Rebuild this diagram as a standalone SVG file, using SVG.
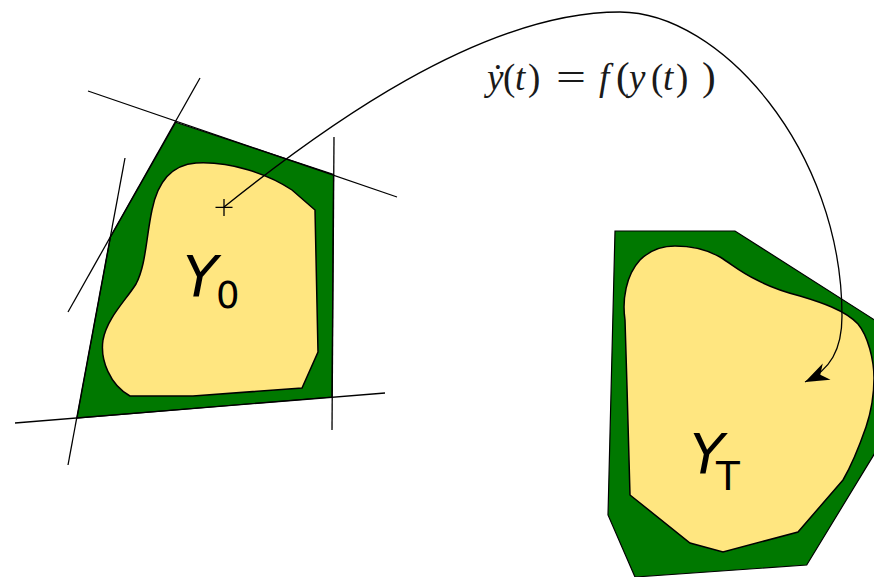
<svg xmlns="http://www.w3.org/2000/svg" width="874" height="577" viewBox="0 0 874 577">
<style>
.hull{fill:#007800;stroke:#000;stroke-width:1.2;stroke-linejoin:miter}
.set{fill:#ffe680;stroke:#000;stroke-width:1.5}
.tan{stroke:#000;stroke-width:1.3;fill:none}
.lbl{font-family:"DejaVu Sans",sans-serif;fill:#000}
.m{font-family:"Liberation Serif","DejaVu Serif",serif;font-size:37px;fill:#1a1a1a}
.i{font-style:italic}
.flow{stroke:#000;stroke-width:1.3;fill:none}
</style>
<defs>
<marker id="ah" markerUnits="userSpaceOnUse" markerWidth="30" markerHeight="24" viewBox="-26 -12 30 24" refX="0" refY="0" orient="auto">
<path d="M0,0 L-24,-9 L-17,0 L-24,9 Z" fill="#000"/>
</marker>
</defs>
<rect width="874" height="577" fill="#fff"/>
<g id="Y0">
<polygon class="hull" points="175.7,122.3 333.5,174.5 332,397 77,418 110.5,237"/>
<path class="set" d="M196,163 C230,161 268,174 292,190 L315,210 L318,352 L302,388 L193,396 L130,396 C110,385 100,360 103,340 C107,318 126,300 136,284 C146,265 146,238 152,210 C157,185 170,165 196,163 Z"/>
<path class="tan" d="M224,199 V216 M215.5,207.3 H232.5"/>
<text class="lbl" y="297" font-size="57"><tspan x="183" font-style="italic">Y</tspan><tspan x="216" y="308" font-size="37">0</tspan></text>
</g>
<g id="tangents">
<line class="tan" x1="88" y1="91" x2="397" y2="197"/>
<line class="tan" x1="200" y1="78" x2="68" y2="312"/>
<line class="tan" x1="334" y1="137" x2="332" y2="430"/>
<line class="tan" x1="15" y1="423" x2="385" y2="393"/>
<line class="tan" x1="125" y1="158" x2="68" y2="465"/>
</g>
<g id="YT">
<polygon class="hull" points="615,231 735,231 895,333 895,420 806.7,565 635,577 608,515"/>
<path class="set" d="M625,320 C622,300 626,275 640,260 C650,250 663,246 675,246 C692,246 706,249 720,257 C733,265 740,272 757,280 C770,287 785,292 800,296 C820,302 845,310 858,324 C868,336 874,360 874,378 C874,400 870,415 866,427 C858,450 850,468 843,480 L798,532 L723,552 L690,543 L630,495 L627,387 Z"/>
<text class="lbl" y="473" font-size="56"><tspan x="690" font-style="italic">Y</tspan><tspan x="716" y="490" font-size="39">T</tspan></text>
</g>
<g id="connectors">
<path class="flow" marker-end="url(#ah)" d="M224,207 C320,130 480,12 620,12 C720,12 842,150 842,316 C842,350 830,370 805,382"/>
</g>
<g id="formula">
<text class="m" y="90"><tspan class="i" x="487">ẏ</tspan><tspan x="503">(</tspan><tspan class="i" x="515">t</tspan><tspan x="528">)</tspan><tspan x="556" textLength="30" lengthAdjust="spacingAndGlyphs">=</tspan><tspan class="i" x="599">f</tspan><tspan x="616" font-size="41">(</tspan><tspan class="i" x="629">y</tspan><tspan x="651">(</tspan><tspan class="i" x="663">t</tspan><tspan x="676">)</tspan><tspan x="702" font-size="41">)</tspan></text>
</g>
</svg>
